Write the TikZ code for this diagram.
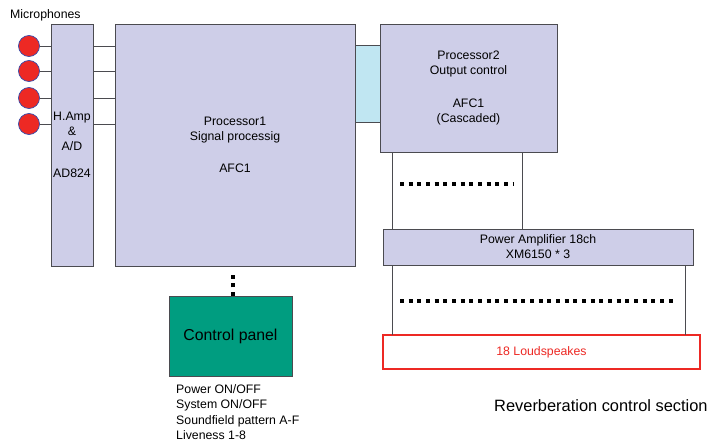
\documentclass[tikz,border=0pt]{standalone}
\usepackage{fontspec}
\setmainfont{Liberation Sans}
\usetikzlibrary{positioning,calc}

\definecolor{boxfill}{RGB}{206,206,232}
\definecolor{boxline}{RGB}{75,75,80}
\definecolor{linkblue}{RGB}{192,230,242}
\definecolor{panelgreen}{RGB}{0,157,128}
\definecolor{spkred}{RGB}{237,41,36}
\definecolor{micline}{RGB}{55,75,170}
\newlength\pxlen
\setlength\pxlen{0.03cm}

\begin{document}
\begin{tikzpicture}[x=0.03cm, y=-0.03cm,
    every node/.style={font=\fontsize{10.5}{12.75}\selectfont},
    box/.style={draw=boxline, fill=boxfill, line width=0.8pt, inner sep=0pt,
      outer sep=0pt, anchor=north west, align=center},
    wire/.style={draw=boxline, line width=0.6pt},
    dots/.style={line width=3.4pt, dash pattern=on 3.4pt off 4pt},
    mic/.style={circle, draw=micline, fill=spkred, minimum size=21\pxlen,
      inner sep=0pt, line width=0.6pt}]
  \useasboundingbox (0,0) rectangle (725,446);

  % microphone inputs
  \node[anchor=south west, inner sep=0pt] (miclabel) at (10,21) {Microphones};
  \foreach \i/\y in {1/46,2/71,3/98,4/124}
    \node[mic] (m\i) at (29,\y) {};

  % processing chain
  \node[box, minimum width=42\pxlen, minimum height=242\pxlen] (amp) at (51,24)
    {H.Amp\\\&\\A/D\\[10pt]AD824};
  \node[box, minimum width=240\pxlen, minimum height=242\pxlen] (p1) at (115,24)
    {Processor1\\Signal processig\\[15pt]AFC1};
  \node[box, fill=linkblue, minimum width=25\pxlen, minimum height=77\pxlen] (link) at (355,45) {};
  \node[box, minimum width=177\pxlen, minimum height=128\pxlen] (p2) at (380,24)
    {Processor2\\Output control\\[15pt]AFC1\\(Cascaded)};
  \node[box, minimum width=310\pxlen, minimum height=36\pxlen] (pa) at (383,229)
    {Power Amplifier 18ch\\XM6150 * 3};
  \node[box, draw=spkred, fill=white, line width=2pt, text=spkred,
    minimum width=317\pxlen, minimum height=34\pxlen] (spk) at (383,335) {18 Loudspeakes};

  % control panel
  \node[box, fill=panelgreen, minimum width=123\pxlen, minimum height=80\pxlen,
    font=\fontsize{13.5}{15}\selectfont] (cp) at (169,296) {Control panel};
  \node[anchor=north west, align=left, inner sep=0pt,
    font=\fontsize{10.5}{13.3}\selectfont] (cpnotes) at (176,384)
    {Power ON/OFF\\System ON/OFF\\Soundfield pattern A-F\\Liveness 1-8};
  \node[anchor=base west, inner sep=0pt, font=\fontsize{14}{16}\selectfont] (title)
    at (494,411) {Reverberation control section};

  % wiring
  \foreach \i in {1,...,4} {
    \draw[wire] (m\i.east) -- (m\i -| amp.west);
    \draw[wire] (m\i -| amp.east) -- (m\i -| p1.west);
  }
  \coordinate (p2l) at ($(p2.south west)+(12,0)$);
  \coordinate (p2r) at ($(p2.south east)+(-35,0)$);
  \coordinate (pal) at ($(pa.south west)+(9,0)$);
  \coordinate (par) at ($(pa.south east)+(-8,0)$);
  \draw[wire] (p2l) -- (p2l |- pa.north);
  \draw[wire] (p2r) -- (p2r |- pa.north);
  \draw[wire] (pal) -- (pal |- spk.north);
  \draw[wire] (par) -- (par |- spk.north);

  \draw[dots] (400,184) -- (513,184);
  \draw[dots] (400,301) -- (673,301);
  \draw[dots] ($(cp.north)+(2.5,0)$) -- ++(0,-24);
\end{tikzpicture}
\end{document}
